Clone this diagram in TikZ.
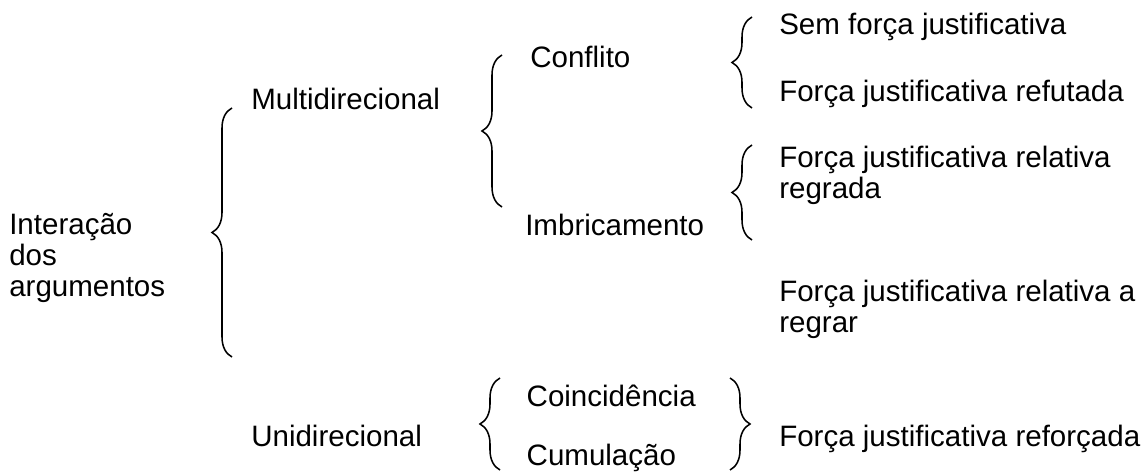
\documentclass[tikz,border=0pt]{standalone}
\usepackage{fontspec}
\setmainfont{Liberation Sans}
\usetikzlibrary{decorations.pathreplacing}

\begin{document}
\begin{tikzpicture}[
	txt/.style={anchor=base west,inner sep=0pt,align=left,font=\fontsize{21}{22.3}\selectfont},
	chave/.style={decorate,decoration={brace,amplitude=0.5cm},line width=1.1pt}]
	
	\useasboundingbox (0,0) rectangle (28.675,11.875);
	\node[txt] (inter)  at (0.225, 4.45)   {Interação\\dos\\argumentos};
	\node[txt] (multi)  at (6.275, 9.125)  {Multidirecional};
	\node[txt] (uni)    at (6.275, 0.7)    {Unidirecional};
	\node[txt] (confl)  at (13.25, 10.175) {Conflito};
	\node[txt] (imbr)   at (13.125, 5.99)  {Imbricamento};
	\node[txt] (coinc)  at (13.16, 1.71)   {Coincidência};
	\node[txt] (cumul)  at (13.16, 0.225)  {Cumulação};
	\node[txt] (sem)    at (19.475, 11.0)  {Sem força justificativa};
	\node[txt] (refut)  at (19.475, 9.325) {Força justificativa refutada};
	\node[txt] (regr)   at (19.475, 6.9)   {Força justificativa relativa\\regrada};
	\node[txt] (aregr)  at (19.475, 3.55)  {Força justificativa relativa a\\regrar};
	\node[txt] (refor)  at (19.475, 0.7)   {Força justificativa reforçada};
	\draw[chave] (5.8, 2.95)  -- (5.8, 9.175);
	\draw[chave] (12.55, 6.7) -- (12.55, 10.5);
	\draw[chave] (18.8, 9.175) -- (18.8, 11.45);
	\draw[chave] (18.8, 5.875) -- (18.8, 8.25);
	\draw[chave] (12.5, 0.125) -- (12.5, 2.425);
	\draw[chave] (18.25, 2.425) -- (18.25, 0.125);
	
\end{tikzpicture}
\end{document}
